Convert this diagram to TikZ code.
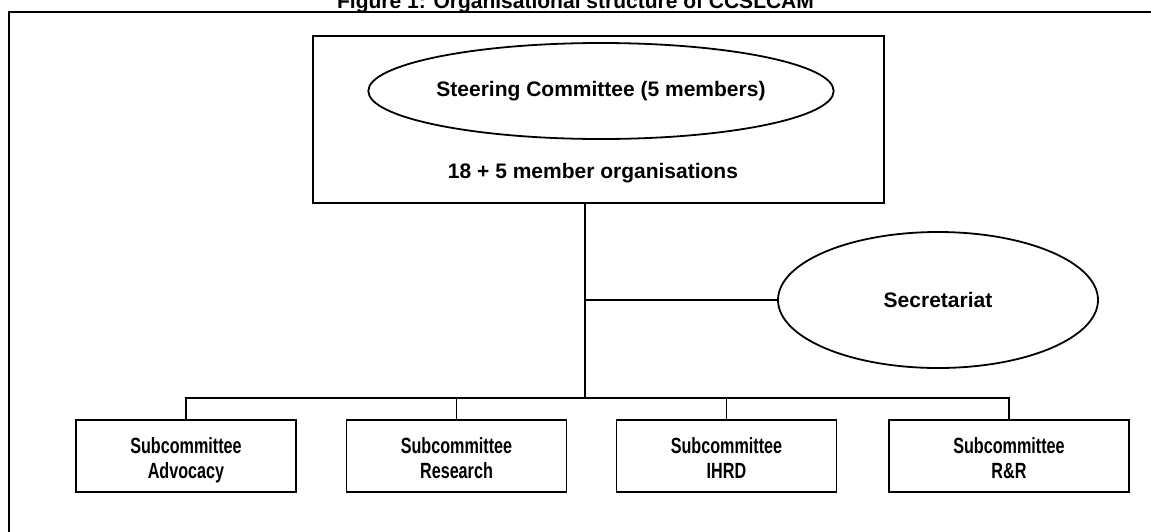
\documentclass[tikz,border=0pt]{standalone}
\usepackage{fontspec}
\setmainfont{Liberation Sans}
\newfontfamily\subfont[FakeStretch=0.735]{Liberation Sans}
\usetikzlibrary{shapes.geometric}
\newcommand\twolines[2]{\rule{0pt}{14pt}#1\\#2\strut}
\tikzset{
  framel/.style={line width=1pt},
  boxl/.style={draw, line width=0.9pt, inner sep=0pt},
  topbox/.style={boxl, rectangle, minimum width=285.5pt, minimum height=83.5pt},
  ell/.style={boxl, ellipse, font=\fontsize{10.5}{12.5}\selectfont\bfseries},
  subbox/.style={boxl, rectangle, minimum width=110pt, minimum height=36pt, align=center,
    font=\subfont\fontsize{11}{12.5}\selectfont\bfseries},
  plain/.style={inner sep=0pt, font=\fontsize{10.5}{12.5}\selectfont\bfseries},
  conn/.style={line width=0.7pt}
}
\begin{document}
\begin{tikzpicture}[x=0.5pt,y=-0.5pt]
\useasboundingbox (0,0) rectangle (1151,531);
\node[plain, anchor=base] (title) at (575.5,8.5) {Figure 1: Organisational structure of CCSLCAM};
\coordinate (fr) at (1160,12);
\coordinate (fl) at (9,12);
\coordinate (fb) at (9,540);
\draw[framel] (fr) -- (fl) -- (fb);
\node[topbox] (top) at (598.5,119.5) {};
\node[ell, minimum width=225pt, minimum height=48pt] (steer) at (601,91) {Steering Committee (5 members)};
\node[plain] (members) at (593,173) {18 + 5 member organisations};
\coordinate (hub) at (585,398);
\node[ell, minimum width=160pt, minimum height=68pt] (sec) at (938,300) {Secretariat};
\node[subbox] (adv) at (186,456) {\twolines{Subcommittee}{Advocacy}};
\node[subbox] (res) at (456.5,456) {\twolines{Subcommittee}{Research}};
\node[subbox] (ihrd) at (726.5,456) {\twolines{Subcommittee}{IHRD}};
\node[subbox, minimum width=120pt] (rr) at (1009,456) {\twolines{Subcommittee}{R\&R}};
\draw[conn] (top.south -| hub) -- (hub);
\draw[conn] (sec.west) -- (sec.west -| hub);
\draw[conn] (adv.north) -- (adv.north |- hub) -- (rr.north |- hub) -- (rr.north);
\draw[conn] (res.north) -- (res.north |- hub);
\draw[conn] (ihrd.north) -- (ihrd.north |- hub);
\end{tikzpicture}
\end{document}
